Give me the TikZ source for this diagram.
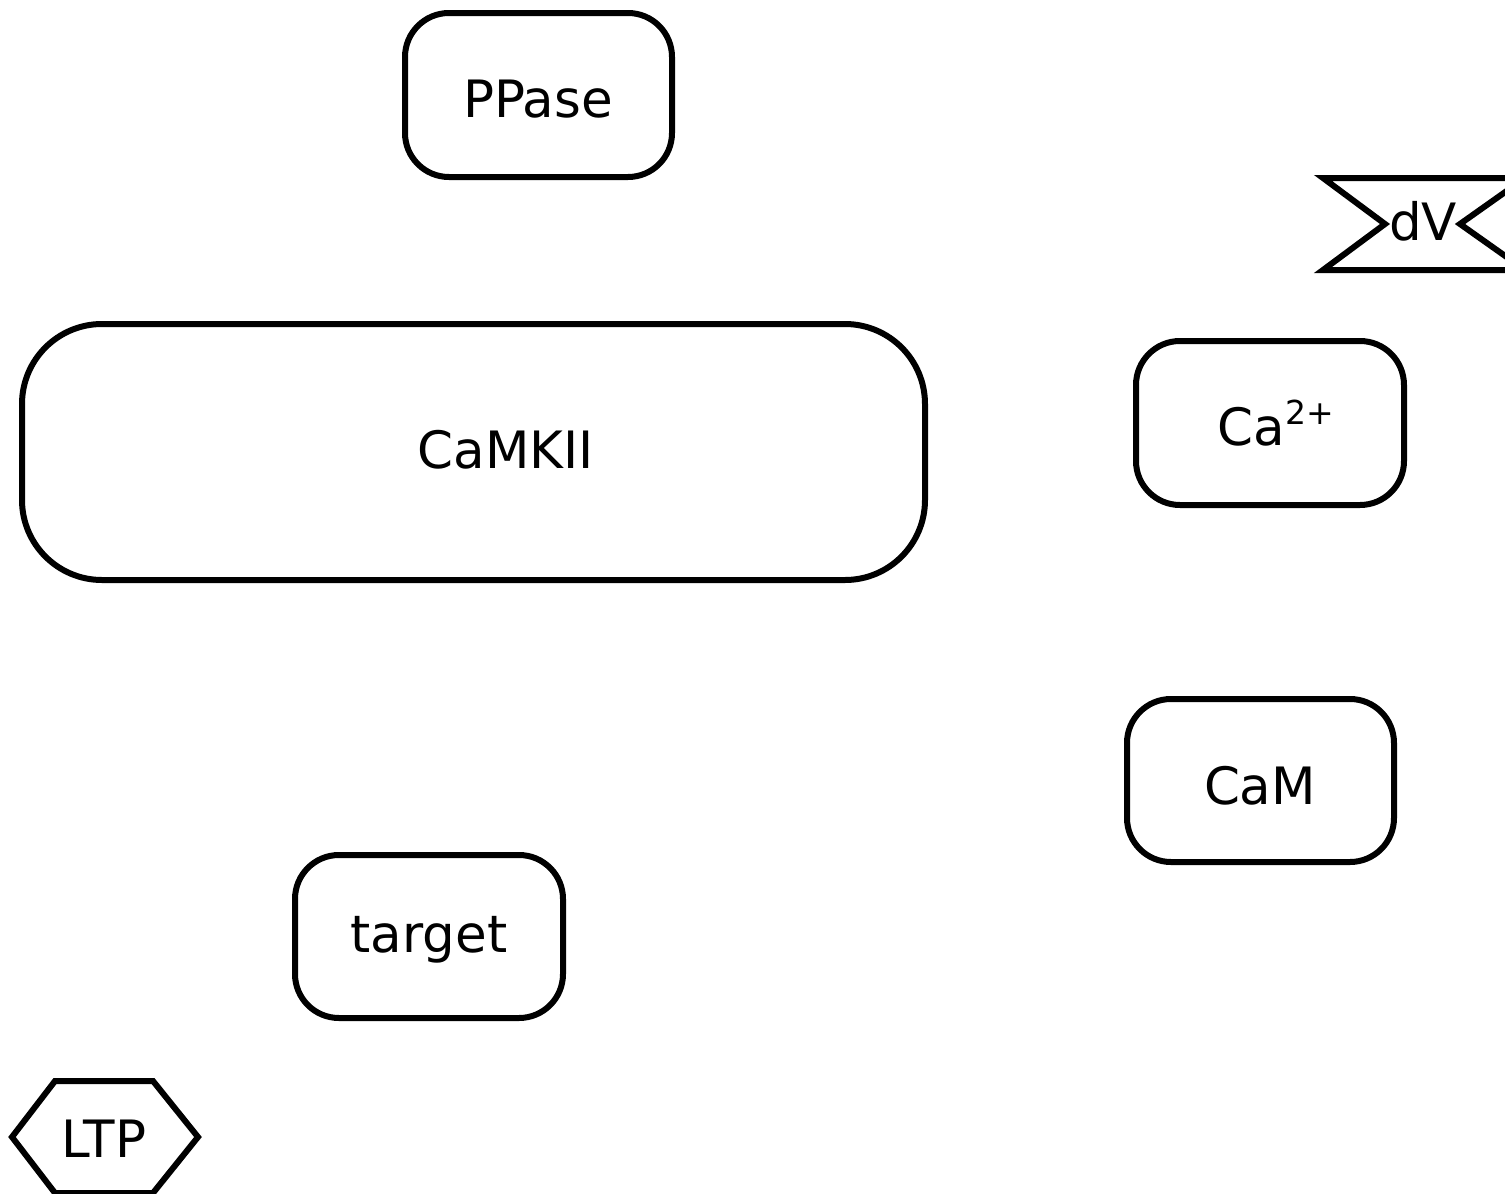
\documentclass[tikz,border=0pt]{standalone}
\usepackage{fontspec}
\setmainfont{DejaVu Sans}
\begin{document}
\begin{tikzpicture}[x=1pt,y=-1pt,
  entity/.style={draw, line width=6pt, rounded corners=44pt, inner sep=0pt,
    minimum width=#1},
  lbl/.style={font=\fontsize{51.5}{60}\selectfont, inner sep=0pt, anchor=base},
  outline/.style={draw, line width=6pt, line join=miter}]
\useasboundingbox (0,0) rectangle (1505,1194);
% molecular species: boxes
\node[entity=267pt, minimum height=164pt] (ppase) at (538.5,95) {};
\node[entity=903pt, minimum height=256pt, rounded corners=80pt] (camkii) at (473.5,452) {};
\node[entity=268pt, minimum height=164pt] (ca) at (1270,423) {};
\node[entity=267pt, minimum height=163pt] (cam) at (1260.5,780.5) {};
\node[entity=268pt, minimum height=163pt] (target) at (429,936.5) {};
% molecular species: names
\node[lbl] (ppasetext) at (538,117) {PPase};
\node[lbl] (camkiitext) at (506,468) {CaMKII};
\node[lbl] (catext) at (1276,445) {Ca\raisebox{21pt}{\fontsize{33}{36}\selectfont 2+}};
\node[lbl] (camtext) at (1260,804) {CaM};
\node[lbl] (targettext) at (429,952) {target};
% stimulus dV (notched band)
\draw[outline] (1323,178) -- (1525,178) -- (1460,224) -- (1525,270) -- (1323,270) -- (1385,224) -- cycle;
\node[lbl] (dv) at (1423,240) {dV};
% outcome LTP (hexagon)
\draw[outline] (12,1137) -- (55,1081) -- (153,1081) -- (198,1137) -- (153,1193) -- (55,1193) -- cycle;
\node[lbl] (ltp) at (104,1157) {LTP};
\end{tikzpicture}
\end{document}
